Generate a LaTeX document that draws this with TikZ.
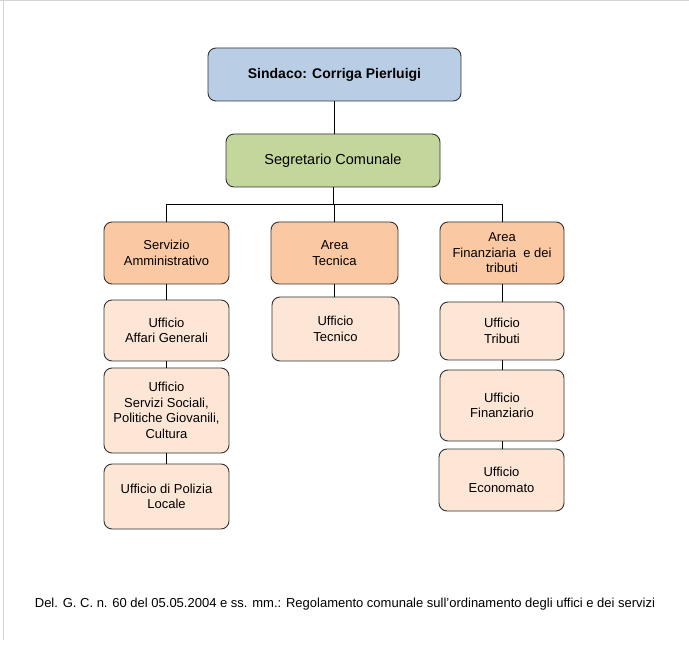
\documentclass[tikz,border=0pt]{standalone}
\usepackage{fontspec}
\setmainfont{Liberation Sans}
\definecolor{sindacofill}{HTML}{B9CDE5}
\definecolor{segrfill}{HTML}{C3D69B}
\definecolor{areafill}{HTML}{FAC9A3}
\definecolor{uffill}{HTML}{FDE6D6}
\definecolor{edge}{HTML}{333333}
\definecolor{frame}{HTML}{D4D4D4}
\tikzset{
  boxbase/.style={draw=edge, line width=0.9pt, rounded corners=8pt, align=center, inner sep=2pt, text=black},
  sindacobox/.style={boxbase, fill=sindacofill, minimum width=253pt, minimum height=53pt, font=\fontsize{14}{16}\selectfont\bfseries},
  segrbox/.style={boxbase, fill=segrfill, minimum width=214pt, minimum height=53pt, font=\fontsize{14.5}{17}\selectfont},
  areabox/.style={boxbase, fill=areafill, minimum width=125pt, minimum height=62pt, font=\fontsize{13}{15.5}\selectfont},
  ufbox/.style={boxbase, fill=uffill, minimum width=125pt, font=\fontsize{13}{15.5}\selectfont},
  conn/.style={draw=black, line width=0.8pt}
}
\begin{document}
\begin{tikzpicture}[x=1pt,y=-1pt]
\useasboundingbox (0,0) rectangle (689,647);
\fill[white] (0,0) rectangle (689,647);
\draw[frame, line width=1pt] (0,1) -- (689,1);
\draw[frame, line width=1pt] (3,1) -- (3,640);

\node[sindacobox] (sind) at (334.5,74.5) {Sindaco: Corriga Pierluigi};
\node[segrbox] (segr) at (333,160.5) {Segretario Comunale};

\node[areabox] (serv) at (166.5,253) {Servizio\\Amministrativo};
\node[areabox, minimum width=127pt] (tecn) at (334.5,253) {Area\\Tecnica};
\node[areabox, minimum width=124pt] (fina) at (502,253) {Area\\Finanziaria\ \ e dei\\tributi};

\node[ufbox, minimum height=61pt] (affa) at (166.5,330.5) {Ufficio\\Affari Generali};
\node[ufbox, minimum height=85pt] (soci) at (166.5,410.5) {Ufficio\\Servizi Sociali,\\Politiche Giovanili,\\Cultura};
\node[ufbox, minimum height=65pt] (poli) at (166.5,496.5) {Ufficio di Polizia\\Locale};

\node[ufbox, minimum width=127pt, minimum height=64pt] (uftec) at (335.5,329) {Ufficio\\Tecnico};

\node[ufbox, minimum width=124pt, minimum height=58pt] (trib) at (502,331) {Ufficio\\Tributi};
\node[ufbox, minimum width=124pt, minimum height=71pt] (ufin) at (502,405.5) {Ufficio\\Finanziario};
\node[ufbox, minimum width=125pt, minimum height=62pt] (econ) at (501.5,480) {Ufficio\\Economato};

\coordinate (bus) at (333,204);

\draw[conn] (sind.south) -- (sind.south |- segr.north);
\draw[conn] (segr.south) -- (bus);
\draw[conn] (bus) -| (serv.north);
\draw[conn] (bus) -| (fina.north);
\draw[conn] (bus) -| (tecn.north);

\draw[conn] (serv.south) -- (affa.north);
\draw[conn] (affa.south) -- (soci.north);
\draw[conn] (soci.south) -- (poli.north);
\draw[conn] (tecn.south) -- (tecn.south |- uftec.north);
\draw[conn] (fina.south) -- (trib.north);
\draw[conn] (trib.south) -- (ufin.north);
\draw[conn] (ufin.south) -- (ufin.south |- econ.north);

\node[font=\fontsize{13}{15}\selectfont, inner sep=0pt] (note) at (345,604) {Del. G. C. n. 60 del 05.05.2004 e ss. mm.: Regolamento comunale sull'ordinamento degli uffici e dei servizi};
\end{tikzpicture}
\end{document}
